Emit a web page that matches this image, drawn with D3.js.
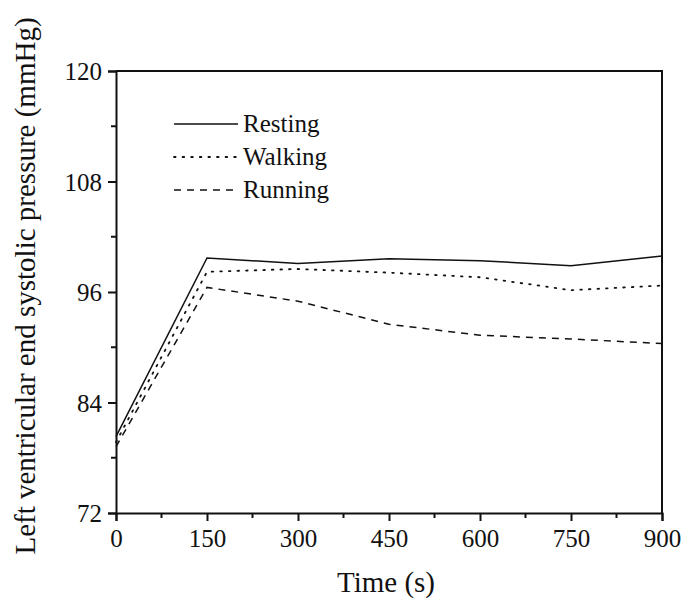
<!DOCTYPE html>
<html>
<head>
<meta charset="utf-8">
<script src="https://cdn.jsdelivr.net/npm/d3@7/dist/d3.min.js"></script>
<style>
  html, body { margin: 0; padding: 0; background: #fff; }
  svg { display: block; }
  text { font-family: "Liberation Serif", "Times New Roman", serif; fill: #111; }
</style>
</head>
<body>
<svg id="chart" width="684" height="605"></svg>
<script>
// Time points (s)
const times = [0, 150, 300, 450, 600, 750, 900];
// Left ventricular end systolic pressure (mmHg) per activity
const resting = [80.3, 99.7, 99.1, 99.6, 99.4, 98.85, 99.9];
const walking = [79.7, 98.2, 98.5, 98.1, 97.6, 96.2, 96.7];
const running = [79.2, 96.5, 95.0, 92.5, 91.3, 90.9, 90.4];

const seriesNames = ["Resting", "Walking", "Running"];
const seriesValues = [resting, walking, running];
const seriesDash = [null, "1.6,7", "7,6"];

const xTicks = [0, 150, 300, 450, 600, 750, 900];
const xMinor = [75, 225, 375, 525, 675, 825];
const yTicks = [72, 84, 96, 108, 120];
const yMinor = [78, 90, 102, 114];

const svg = d3.select("#chart");
const m = { left: 116, right: 662, top: 71, bottom: 513 };

const x = d3.scaleLinear().domain([0, 900]).range([m.left, m.right]);
const y = d3.scaleLinear().domain([72, 120]).range([m.bottom, m.top]);

// Frame (top and right borders)
svg.append("path")
  .attr("d", `M${m.left},${m.top}H${m.right}V${m.bottom}`)
  .attr("fill", "none").attr("stroke", "#111").attr("stroke-width", 2);

// Bottom axis
const gx = svg.append("g").attr("transform", `translate(0,${m.bottom})`)
  .call(d3.axisBottom(x).tickValues(xTicks).tickSize(8).tickPadding(6).tickFormat(d3.format("d")));
gx.append("g").selectAll("line").data(xMinor).join("line")
  .attr("x1", d => x(d)).attr("x2", d => x(d)).attr("y1", 0).attr("y2", 5)
  .attr("stroke", "#111").attr("stroke-width", 2);

// Left axis
const gy = svg.append("g").attr("transform", `translate(${m.left},0)`)
  .call(d3.axisLeft(y).tickValues(yTicks).tickSize(8).tickPadding(6).tickFormat(d3.format("d")));
gy.append("g").selectAll("line").data(yMinor).join("line")
  .attr("y1", d => y(d)).attr("y2", d => y(d)).attr("x1", 0).attr("x2", -5)
  .attr("stroke", "#111").attr("stroke-width", 2);

[gx, gy].forEach(g => {
  g.select(".domain").attr("stroke", "#111").attr("stroke-width", 2);
  g.selectAll(".tick line").attr("stroke", "#111").attr("stroke-width", 2);
  g.selectAll(".tick text")
    .style("font-family", '"Liberation Serif", "Times New Roman", serif')
    .style("font-size", "25px").attr("fill", "#111");
});
gx.selectAll(".tick text").attr("dy", "0.8em");
gy.selectAll(".tick text").attr("dy", "0.35em");

// Series lines
const line = d3.line().x((d, i) => x(times[i])).y(d => y(d));
seriesValues.forEach((vals, k) => {
  svg.append("path")
    .datum(vals)
    .attr("d", line)
    .attr("fill", "none")
    .attr("stroke", "#111")
    .attr("stroke-width", k === 1 ? 1.8 : 1.5)
    .attr("stroke-linecap", k === 1 ? "round" : "butt")
    .attr("stroke-dasharray", seriesDash[k]);
});

// Legend
const legend = svg.append("g");
seriesNames.forEach((name, k) => {
  const ly = 124 + k * 33;
  legend.append("line")
    .attr("x1", 174).attr("x2", 238).attr("y1", ly).attr("y2", ly)
    .attr("stroke", "#111")
    .attr("stroke-width", k === 1 ? 1.8 : 1.5)
    .attr("stroke-linecap", k === 1 ? "round" : "butt")
    .attr("stroke-dasharray", seriesDash[k]);
  legend.append("text")
    .attr("x", 243).attr("y", ly + 8)
    .style("font-size", "25px")
    .text(name);
});

// Axis titles
svg.append("text")
  .attr("x", (m.left + m.right) / 2 - 3).attr("y", 592)
  .attr("text-anchor", "middle")
  .style("font-size", "29px")
  .text("Time (s)");

svg.append("text")
  .attr("transform", `translate(35,${286}) rotate(-90)`)
  .attr("text-anchor", "middle")
  .style("font-size", "29px")
  .text("Left ventricular end systolic pressure (mmHg)");
</script>
</body>
</html>
